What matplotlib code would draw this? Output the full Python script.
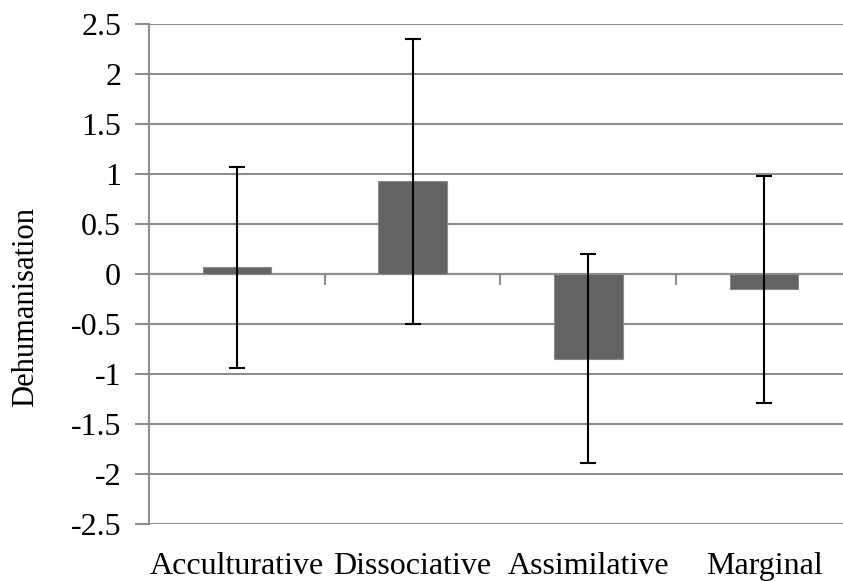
import numpy as np
import matplotlib
matplotlib.use("Agg")
import matplotlib.pyplot as plt

plt.rcParams['font.family'] = ['Liberation Serif', 'DejaVu Serif']

groups = ["Acculturative", "Dissociative", "Assimilative", "Marginal"]
means = [0.065, 0.925, -0.845, -0.155]
errors = [1.0, 1.42, 1.04, 1.13]
yticks = [-2.5, -2, -1.5, -1, -0.5, 0, 0.5, 1, 1.5, 2, 2.5]
ytick_labels = ["-2.5", "-2", "-1.5", "-1", "-0.5", "0", "0.5", "1", "1.5", "2", "2.5"]

grid_col = "#8c8c8c"

fig = plt.figure(figsize=(8.43, 5.81), dpi=100)
ax = fig.add_axes([0.1767, 0.0981, 0.8340, 0.8606])

x = np.arange(len(groups))
ax.bar(x, means, width=0.39, color="#636363", edgecolor="#8a8a8a",
       linewidth=0.8, zorder=3)
ax.errorbar(x, means, yerr=errors, fmt="none", ecolor="black",
            elinewidth=1.5, capsize=5.5, capthick=1.5, zorder=4)

ax.set_xlim(-0.5, len(groups) - 0.5)
ax.set_ylim(-2.5, 2.5)
ax.set_yticks(yticks)
ax.set_yticklabels(ytick_labels, fontsize=23)
ax.yaxis.grid(True, color=grid_col, linewidth=1.5, zorder=0)
ax.set_axisbelow(True)
ax.tick_params(axis="y", length=10, width=1.5, color=grid_col, pad=10)

ax.set_xticks(x)
ax.set_xticklabels(groups, fontsize=23)
ax.tick_params(axis="x", length=0, pad=20)

for s in ["top", "right", "bottom"]:
    ax.spines[s].set_visible(False)
ax.spines["left"].set_color(grid_col)
ax.spines["left"].set_linewidth(1.5)

# horizontal axis crossing at zero, with category boundary ticks
zax = ax.secondary_xaxis(0, transform=ax.transData)
zax.set_xticks(x[:-1] + 0.5)
zax.set_xticklabels([])
zax.tick_params(length=8, width=1.5, color=grid_col, direction="out")
zax.spines["bottom"].set_color(grid_col)
zax.spines["bottom"].set_linewidth(1.5)

fig.text(0.030, 0.4716, "Dehumanisation", fontsize=22, rotation=90,
         ha="center", va="center")

fig.savefig("out.png", dpi=100)
